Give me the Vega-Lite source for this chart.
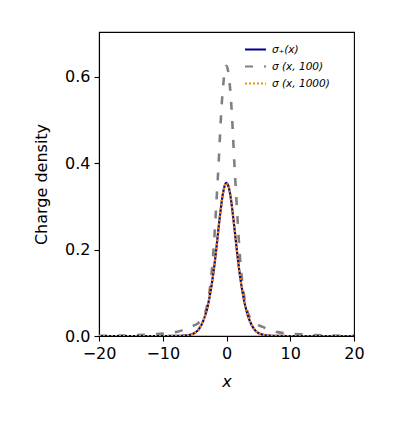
{
  "$schema": "https://vega.github.io/schema/vega-lite/v6.json",
  "width": 255,
  "height": 304,
  "autosize": {"type": "none"},
  "padding": {"left": 99, "top": 32, "right": 45, "bottom": 89},
  "background": "white",
  "config": {
    "view": {"stroke": "black", "strokeWidth": 1.1},
    "axis": {
      "grid": false,
      "domainColor": "black",
      "domainWidth": 1.1,
      "tickColor": "black",
      "tickWidth": 1.1,
      "tickSize": 5,
      "labelPadding": 4,
      "labelColor": "black",
      "labelFont": "DejaVu Sans",
      "labelFontSize": 16,
      "labelFlush": false,
      "labelOverlap": false,
      "titleColor": "black",
      "titleFont": "DejaVu Sans",
      "titleFontSize": 16,
      "titleFontWeight": "normal"
    },
    "legend": {
      "orient": "none",
      "legendX": 145,
      "legendY": 6,
      "padding": 0,
      "title": null,
      "symbolType": "stroke",
      "symbolSize": 441,
      "symbolStrokeWidth": 2,
      "labelFont": "DejaVu Sans",
      "labelFontSize": 10.5,
      "labelFontStyle": "italic",
      "labelColor": "black",
      "labelOffset": 5,
      "rowPadding": -8.5
    }
  },
  "data": {
    "values": [
      {"series": "σ (x, 100)", "x": -20, "y": 0.0005},
      {"series": "σ (x, 100)", "x": -15, "y": 0.0015},
      {"series": "σ (x, 100)", "x": -12, "y": 0.0035},
      {"series": "σ (x, 100)", "x": -10, "y": 0.0055},
      {"series": "σ (x, 100)", "x": -8, "y": 0.009},
      {"series": "σ (x, 100)", "x": -7, "y": 0.013},
      {"series": "σ (x, 100)", "x": -6, "y": 0.019},
      {"series": "σ (x, 100)", "x": -5.5, "y": 0.022},
      {"series": "σ (x, 100)", "x": -5, "y": 0.025},
      {"series": "σ (x, 100)", "x": -4.5, "y": 0.029},
      {"series": "σ (x, 100)", "x": -4, "y": 0.036},
      {"series": "σ (x, 100)", "x": -3.5, "y": 0.048},
      {"series": "σ (x, 100)", "x": -3, "y": 0.073},
      {"series": "σ (x, 100)", "x": -2.75, "y": 0.094},
      {"series": "σ (x, 100)", "x": -2.5, "y": 0.122},
      {"series": "σ (x, 100)", "x": -2.25, "y": 0.158},
      {"series": "σ (x, 100)", "x": -2, "y": 0.207},
      {"series": "σ (x, 100)", "x": -1.75, "y": 0.266},
      {"series": "σ (x, 100)", "x": -1.5, "y": 0.33},
      {"series": "σ (x, 100)", "x": -1.25, "y": 0.395},
      {"series": "σ (x, 100)", "x": -1, "y": 0.47},
      {"series": "σ (x, 100)", "x": -0.75, "y": 0.536},
      {"series": "σ (x, 100)", "x": -0.5, "y": 0.583},
      {"series": "σ (x, 100)", "x": -0.25, "y": 0.613},
      {"series": "σ (x, 100)", "x": 0, "y": 0.625},
      {"series": "σ (x, 100)", "x": 0.25, "y": 0.613},
      {"series": "σ (x, 100)", "x": 0.5, "y": 0.583},
      {"series": "σ (x, 100)", "x": 0.75, "y": 0.536},
      {"series": "σ (x, 100)", "x": 1, "y": 0.47},
      {"series": "σ (x, 100)", "x": 1.25, "y": 0.395},
      {"series": "σ (x, 100)", "x": 1.5, "y": 0.33},
      {"series": "σ (x, 100)", "x": 1.75, "y": 0.266},
      {"series": "σ (x, 100)", "x": 2, "y": 0.207},
      {"series": "σ (x, 100)", "x": 2.25, "y": 0.158},
      {"series": "σ (x, 100)", "x": 2.5, "y": 0.122},
      {"series": "σ (x, 100)", "x": 2.75, "y": 0.094},
      {"series": "σ (x, 100)", "x": 3, "y": 0.073},
      {"series": "σ (x, 100)", "x": 3.5, "y": 0.048},
      {"series": "σ (x, 100)", "x": 4, "y": 0.036},
      {"series": "σ (x, 100)", "x": 4.5, "y": 0.029},
      {"series": "σ (x, 100)", "x": 5, "y": 0.025},
      {"series": "σ (x, 100)", "x": 5.5, "y": 0.022},
      {"series": "σ (x, 100)", "x": 6, "y": 0.019},
      {"series": "σ (x, 100)", "x": 7, "y": 0.013},
      {"series": "σ (x, 100)", "x": 8, "y": 0.009},
      {"series": "σ (x, 100)", "x": 10, "y": 0.0055},
      {"series": "σ (x, 100)", "x": 12, "y": 0.0035},
      {"series": "σ (x, 100)", "x": 15, "y": 0.0015},
      {"series": "σ (x, 100)", "x": 20, "y": 0.0005},

      {"series": "σ₊(x)", "x": -20, "y": 0},
      {"series": "σ₊(x)", "x": -15, "y": 0},
      {"series": "σ₊(x)", "x": -12, "y": 0},
      {"series": "σ₊(x)", "x": -10, "y": 0.00002},
      {"series": "σ₊(x)", "x": -8, "y": 0.0002},
      {"series": "σ₊(x)", "x": -7, "y": 0.0006},
      {"series": "σ₊(x)", "x": -6, "y": 0.002},
      {"series": "σ₊(x)", "x": -5.5, "y": 0.004},
      {"series": "σ₊(x)", "x": -5, "y": 0.007},
      {"series": "σ₊(x)", "x": -4.5, "y": 0.013},
      {"series": "σ₊(x)", "x": -4, "y": 0.024},
      {"series": "σ₊(x)", "x": -3.5, "y": 0.041},
      {"series": "σ₊(x)", "x": -3, "y": 0.066},
      {"series": "σ₊(x)", "x": -2.75, "y": 0.083},
      {"series": "σ₊(x)", "x": -2.5, "y": 0.103},
      {"series": "σ₊(x)", "x": -2.25, "y": 0.126},
      {"series": "σ₊(x)", "x": -2, "y": 0.152},
      {"series": "σ₊(x)", "x": -1.75, "y": 0.182},
      {"series": "σ₊(x)", "x": -1.5, "y": 0.215},
      {"series": "σ₊(x)", "x": -1.25, "y": 0.249},
      {"series": "σ₊(x)", "x": -1, "y": 0.281},
      {"series": "σ₊(x)", "x": -0.75, "y": 0.311},
      {"series": "σ₊(x)", "x": -0.5, "y": 0.334},
      {"series": "σ₊(x)", "x": -0.25, "y": 0.349},
      {"series": "σ₊(x)", "x": 0, "y": 0.354},
      {"series": "σ₊(x)", "x": 0.25, "y": 0.349},
      {"series": "σ₊(x)", "x": 0.5, "y": 0.334},
      {"series": "σ₊(x)", "x": 0.75, "y": 0.311},
      {"series": "σ₊(x)", "x": 1, "y": 0.281},
      {"series": "σ₊(x)", "x": 1.25, "y": 0.249},
      {"series": "σ₊(x)", "x": 1.5, "y": 0.215},
      {"series": "σ₊(x)", "x": 1.75, "y": 0.182},
      {"series": "σ₊(x)", "x": 2, "y": 0.152},
      {"series": "σ₊(x)", "x": 2.25, "y": 0.126},
      {"series": "σ₊(x)", "x": 2.5, "y": 0.103},
      {"series": "σ₊(x)", "x": 2.75, "y": 0.083},
      {"series": "σ₊(x)", "x": 3, "y": 0.066},
      {"series": "σ₊(x)", "x": 3.5, "y": 0.041},
      {"series": "σ₊(x)", "x": 4, "y": 0.024},
      {"series": "σ₊(x)", "x": 4.5, "y": 0.013},
      {"series": "σ₊(x)", "x": 5, "y": 0.007},
      {"series": "σ₊(x)", "x": 5.5, "y": 0.004},
      {"series": "σ₊(x)", "x": 6, "y": 0.002},
      {"series": "σ₊(x)", "x": 7, "y": 0.0006},
      {"series": "σ₊(x)", "x": 8, "y": 0.0002},
      {"series": "σ₊(x)", "x": 10, "y": 0.00002},
      {"series": "σ₊(x)", "x": 12, "y": 0},
      {"series": "σ₊(x)", "x": 15, "y": 0},
      {"series": "σ₊(x)", "x": 20, "y": 0},

      {"series": "σ (x, 1000)", "x": -20, "y": 0},
      {"series": "σ (x, 1000)", "x": -15, "y": 0},
      {"series": "σ (x, 1000)", "x": -12, "y": 0},
      {"series": "σ (x, 1000)", "x": -10, "y": 0.00002},
      {"series": "σ (x, 1000)", "x": -8, "y": 0.0002},
      {"series": "σ (x, 1000)", "x": -7, "y": 0.0006},
      {"series": "σ (x, 1000)", "x": -6, "y": 0.002},
      {"series": "σ (x, 1000)", "x": -5.5, "y": 0.004},
      {"series": "σ (x, 1000)", "x": -5, "y": 0.007},
      {"series": "σ (x, 1000)", "x": -4.5, "y": 0.013},
      {"series": "σ (x, 1000)", "x": -4, "y": 0.024},
      {"series": "σ (x, 1000)", "x": -3.5, "y": 0.041},
      {"series": "σ (x, 1000)", "x": -3, "y": 0.066},
      {"series": "σ (x, 1000)", "x": -2.75, "y": 0.083},
      {"series": "σ (x, 1000)", "x": -2.5, "y": 0.103},
      {"series": "σ (x, 1000)", "x": -2.25, "y": 0.126},
      {"series": "σ (x, 1000)", "x": -2, "y": 0.152},
      {"series": "σ (x, 1000)", "x": -1.75, "y": 0.182},
      {"series": "σ (x, 1000)", "x": -1.5, "y": 0.215},
      {"series": "σ (x, 1000)", "x": -1.25, "y": 0.249},
      {"series": "σ (x, 1000)", "x": -1, "y": 0.281},
      {"series": "σ (x, 1000)", "x": -0.75, "y": 0.311},
      {"series": "σ (x, 1000)", "x": -0.5, "y": 0.334},
      {"series": "σ (x, 1000)", "x": -0.25, "y": 0.349},
      {"series": "σ (x, 1000)", "x": 0, "y": 0.354},
      {"series": "σ (x, 1000)", "x": 0.25, "y": 0.349},
      {"series": "σ (x, 1000)", "x": 0.5, "y": 0.334},
      {"series": "σ (x, 1000)", "x": 0.75, "y": 0.311},
      {"series": "σ (x, 1000)", "x": 1, "y": 0.281},
      {"series": "σ (x, 1000)", "x": 1.25, "y": 0.249},
      {"series": "σ (x, 1000)", "x": 1.5, "y": 0.215},
      {"series": "σ (x, 1000)", "x": 1.75, "y": 0.182},
      {"series": "σ (x, 1000)", "x": 2, "y": 0.152},
      {"series": "σ (x, 1000)", "x": 2.25, "y": 0.126},
      {"series": "σ (x, 1000)", "x": 2.5, "y": 0.103},
      {"series": "σ (x, 1000)", "x": 2.75, "y": 0.083},
      {"series": "σ (x, 1000)", "x": 3, "y": 0.066},
      {"series": "σ (x, 1000)", "x": 3.5, "y": 0.041},
      {"series": "σ (x, 1000)", "x": 4, "y": 0.024},
      {"series": "σ (x, 1000)", "x": 4.5, "y": 0.013},
      {"series": "σ (x, 1000)", "x": 5, "y": 0.007},
      {"series": "σ (x, 1000)", "x": 5.5, "y": 0.004},
      {"series": "σ (x, 1000)", "x": 6, "y": 0.002},
      {"series": "σ (x, 1000)", "x": 7, "y": 0.0006},
      {"series": "σ (x, 1000)", "x": 8, "y": 0.0002},
      {"series": "σ (x, 1000)", "x": 10, "y": 0.00002},
      {"series": "σ (x, 1000)", "x": 12, "y": 0},
      {"series": "σ (x, 1000)", "x": 15, "y": 0},
      {"series": "σ (x, 1000)", "x": 20, "y": 0}
    ]
  },
  "encoding": {
    "x": {
      "field": "x",
      "type": "quantitative",
      "scale": {"domain": [-20, 20], "nice": false, "zero": false},
      "axis": {"values": [-20, -10, 0, 10, 20], "title": "x", "titleFontStyle": "italic", "titlePadding": 12}
    },
    "y": {
      "field": "y",
      "type": "quantitative",
      "scale": {"domain": [0, 0.703], "nice": false},
      "axis": {"values": [0, 0.2, 0.4, 0.6], "format": ".1f", "title": "Charge density", "titlePadding": 15}
    },
    "color": {
      "field": "series",
      "type": "nominal",
      "scale": {"domain": ["σ₊(x)", "σ (x, 100)", "σ (x, 1000)"], "range": ["#00008b", "#808080", "#ff8c00"]}
    },
    "strokeDash": {
      "field": "series",
      "type": "nominal",
      "scale": {"domain": ["σ₊(x)", "σ (x, 100)", "σ (x, 1000)"], "range": [[1, 0], [8, 11], [2, 2]]}
    }
  },
  "layer": [
    {
      "transform": [{"filter": "datum.series === 'σ (x, 100)'"}],
      "mark": {"type": "line", "interpolate": "monotone", "strokeWidth": 2.6, "clip": true}
    },
    {
      "transform": [{"filter": "datum.series === 'σ₊(x)'"}],
      "mark": {"type": "line", "interpolate": "monotone", "strokeWidth": 2.2, "clip": true}
    },
    {
      "transform": [{"filter": "datum.series === 'σ (x, 1000)'"}],
      "mark": {"type": "line", "interpolate": "monotone", "strokeWidth": 2.2, "clip": true}
    }
  ]
}
